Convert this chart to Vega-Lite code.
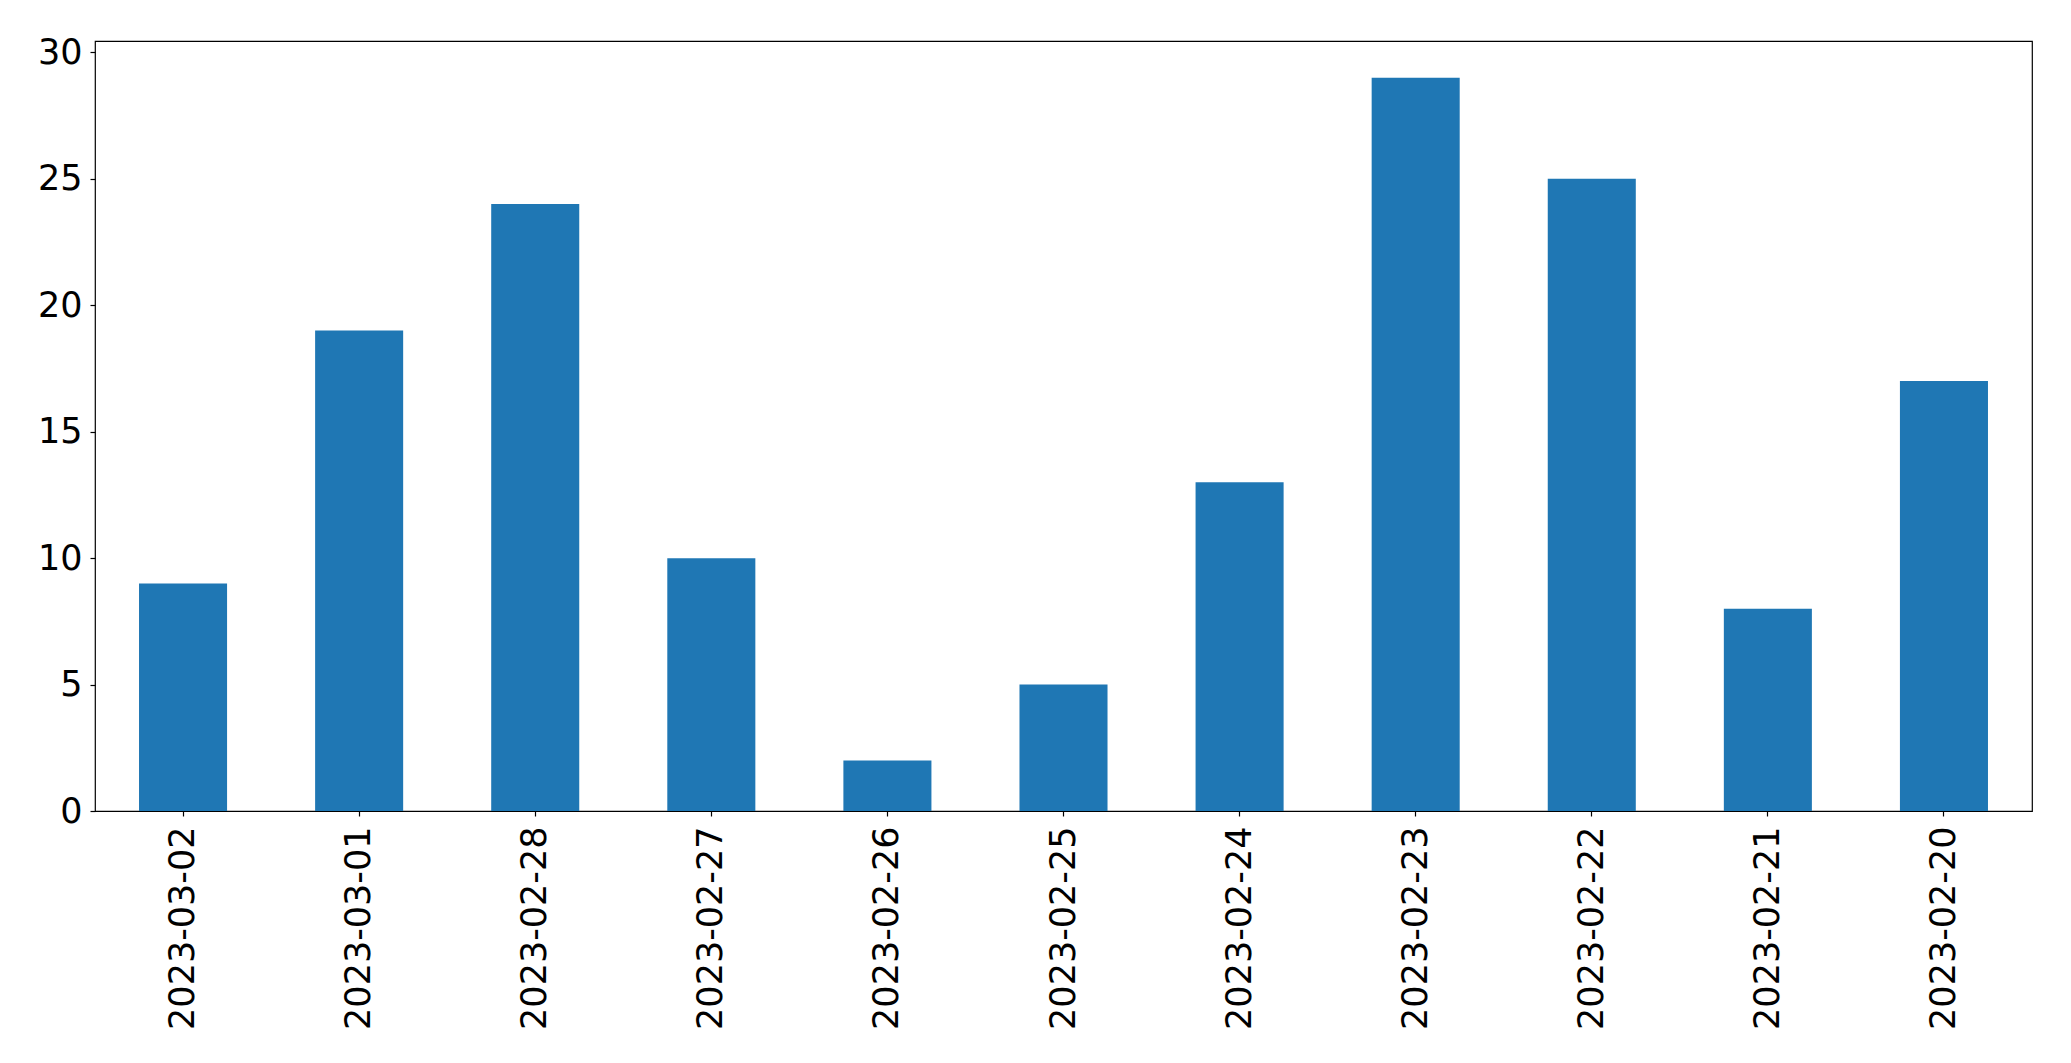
{
  "$schema": "https://vega.github.io/schema/vega-lite/v6.json",
  "autosize": {"type": "none"},
  "padding": {"left": 95, "top": 41, "right": 39, "bottom": 252},
  "width": 1937,
  "height": 770,
  "background": "white",
  "config": {
    "view": {"stroke": "black", "strokeWidth": 1.2},
    "font": "DejaVu Sans",
    "axis": {
      "grid": false,
      "domain": false,
      "tickColor": "black",
      "tickSize": 5,
      "tickWidth": 1.2,
      "labelColor": "black",
      "labelFont": "DejaVu Sans",
      "labelFontSize": 35,
      "labelLimit": 0,
      "title": null
    }
  },
  "data": {
    "values": [
      {"date": "2023-03-02", "count": 9},
      {"date": "2023-03-01", "count": 19},
      {"date": "2023-02-28", "count": 24},
      {"date": "2023-02-27", "count": 10},
      {"date": "2023-02-26", "count": 2},
      {"date": "2023-02-25", "count": 5},
      {"date": "2023-02-24", "count": 13},
      {"date": "2023-02-23", "count": 29},
      {"date": "2023-02-22", "count": 25},
      {"date": "2023-02-21", "count": 8},
      {"date": "2023-02-20", "count": 17}
    ]
  },
  "mark": {"type": "bar", "color": "#1f77b4"},
  "encoding": {
    "x": {
      "field": "date",
      "type": "nominal",
      "sort": null,
      "scale": {"paddingInner": 0.5, "paddingOuter": 0.25},
      "axis": {"labelAngle": -90, "labelPadding": 10, "labelAlign": "right", "labelBaseline": "middle", "labelLimit": 0}
    },
    "y": {
      "field": "count",
      "type": "quantitative",
      "scale": {"domain": [0, 30.45], "nice": false, "zero": true},
      "axis": {"values": [0, 5, 10, 15, 20, 25, 30], "labelPadding": 8}
    }
  }
}
